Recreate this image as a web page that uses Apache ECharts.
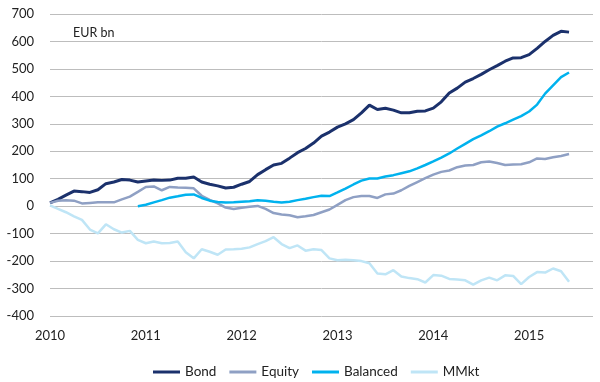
<!DOCTYPE html>
<html>
<head>
<meta charset="utf-8">
<script src="https://cdn.jsdelivr.net/npm/echarts@6/dist/echarts.min.js"></script>
<style>html,body{margin:0;padding:0;background:#fff}#c{width:600px;height:382px}</style>
</head>
<body>
<div id="c"></div>
<script>
// Monthly categories Jan 2010 .. Sep 2015
var months = [];
for (var y = 2010; y <= 2015; y++) {
  for (var m = 1; m <= 12; m++) {
    if (y === 2015 && m > 9) break;
    months.push(y + '-' + (m < 10 ? '0' + m : m));
  }
}
var yTicks = { min: -400, max: 700, step: 100 };
var unitLabel = 'EUR bn';

var bond = [12,25,40,55,53,50,60,82,88,97,95,88,92,95,94,95,102,102,106,88,80,74,66,69,80,90,115,133,150,156,175,195,210,230,255,270,288,300,315,340,368,352,357,350,340,340,346,347,357,380,412,430,452,465,480,497,512,528,540,541,552,575,600,622,637,634];
var equity = [12,20,22,20,10,12,14,14,14,25,35,52,70,72,58,70,68,67,65,38,23,10,-5,-10,-6,-2,1,-10,-25,-30,-33,-40,-37,-32,-22,-12,5,22,33,37,37,30,43,46,58,74,88,102,115,125,130,142,148,150,160,163,157,150,152,153,160,174,172,178,183,190];
var balanced = [null,null,null,null,null,null,null,null,null,null,null,0,5,14,22,31,36,42,43,30,20,15,13,14,16,18,22,20,16,13,16,22,27,33,38,37,50,64,79,93,101,101,108,113,120,127,138,150,163,177,192,210,227,244,258,273,290,302,315,328,345,370,410,440,470,487];
var mmkt = [3,-10,-22,-37,-50,-85,-99,-66,-84,-96,-90,-123,-135,-129,-135,-134,-129,-168,-190,-157,-166,-177,-158,-157,-155,-150,-138,-127,-113,-138,-153,-143,-162,-157,-160,-190,-197,-195,-197,-200,-208,-245,-248,-233,-256,-262,-266,-278,-251,-253,-265,-267,-270,-286,-270,-260,-270,-252,-254,-284,-258,-240,-242,-227,-237,-275];

var FONT = 'Lato';
var chart = echarts.init(document.getElementById('c'), null, {renderer: 'canvas'});
function mk(name, data, color, w) {
  return { name: name, type: 'line', data: data, symbol: 'none', smooth: false,
    lineStyle: { color: color, width: w }, itemStyle: { color: color }, connectNulls: false, animation: false };
}
chart.setOption({
  animation: false,
  textStyle: { fontFamily: FONT },
  title: { text: unitLabel, left: 68, top: 21, textStyle: { fontSize: 12.5, fontWeight: 'normal', color: '#222', fontFamily: FONT } },
  grid: { left: 50, right: 7, top: 14, bottom: 66 },
  legend: {
    left: 148, top: 360, itemWidth: 27, itemHeight: 3, itemGap: 13, icon: 'rect',
    textStyle: { fontSize: 13.5, color: '#222', fontFamily: FONT },
    data: ['Bond', 'Equity', 'Balanced', 'MMkt']
  },
  xAxis: {
    type: 'category', data: months, boundaryGap: false,
    axisLine: { show: false }, axisTick: { show: false }, splitLine: { show: false },
    axisLabel: {
      interval: function (i, v) { return v.slice(5) === '01'; },
      formatter: function (v) { return v.slice(0, 4); },
      fontSize: 13, color: '#222', margin: 13, fontFamily: FONT
    }
  },
  yAxis: {
    type: 'value', min: yTicks.min, max: yTicks.max, interval: yTicks.step,
    axisLine: { show: false }, axisTick: { show: false },
    axisLabel: { fontSize: 13, color: '#222', margin: 16, fontFamily: FONT },
    splitLine: { lineStyle: { color: '#bdbdbd', width: 1 } }
  },
  series: [
    mk('Bond', bond, '#1b316c', 3),
    mk('Equity', equity, '#8fa0c4', 2.5),
    mk('Balanced', balanced, '#00b2ee', 2.5),
    mk('MMkt', mmkt, '#bfe5f6', 2.5)
  ]
});
</script>
</body>
</html>
